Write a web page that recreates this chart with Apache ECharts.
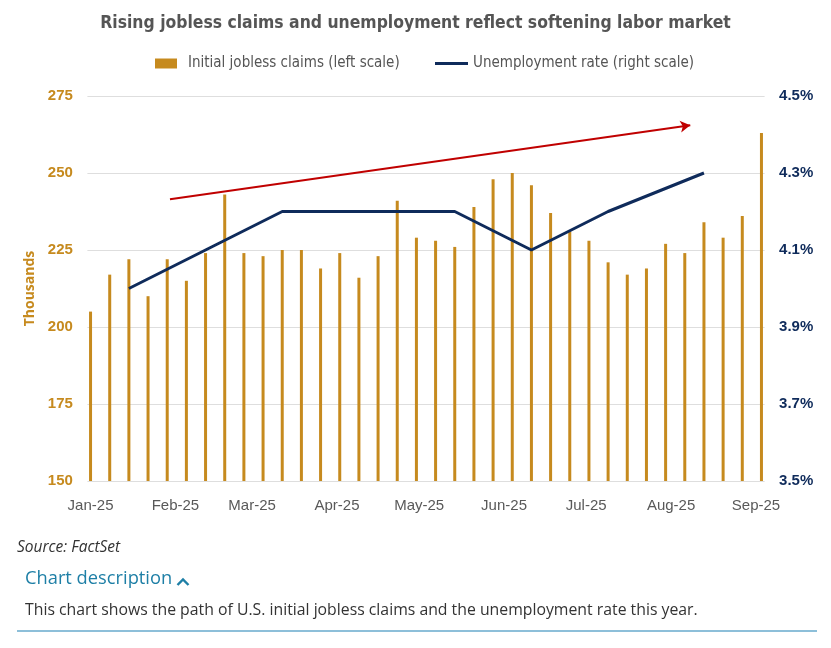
<!DOCTYPE html>
<html>
<head>
<meta charset="utf-8">
<script src="https://cdn.jsdelivr.net/npm/echarts@6/dist/echarts.min.js"></script>
<style>
html,body{margin:0;padding:0;background:#fff;}
#chart{width:831px;height:648px;}
</style>
</head>
<body>
<div id="chart"></div>
<script>
// ---- data ----
const weekDates = ['2025-01-01','2025-01-08','2025-01-15','2025-01-22','2025-01-29',
  '2025-02-05','2025-02-12','2025-02-19','2025-02-26',
  '2025-03-05','2025-03-12','2025-03-19','2025-03-26',
  '2025-04-02','2025-04-09','2025-04-16','2025-04-23','2025-04-30',
  '2025-05-07','2025-05-14','2025-05-21','2025-05-28',
  '2025-06-04','2025-06-11','2025-06-18','2025-06-25',
  '2025-07-02','2025-07-09','2025-07-16','2025-07-23','2025-07-30',
  '2025-08-06','2025-08-13','2025-08-20','2025-08-27',
  '2025-09-03'];
const claims = [205,217,222,210,222,215,224,243,224,223,225,225,219,224,216,223,241,229,
  228,226,239,248,250,246,237,231,228,221,217,219,227,224,234,229,236,263];
const rateDates = ['2025-01-15','2025-02-12','2025-03-12','2025-04-16','2025-05-14','2025-06-11','2025-07-09','2025-08-13'];
const unemploymentRate = [4.0,4.1,4.2,4.2,4.2,4.1,4.2,4.3];
const trendStart = ['2025-01-30', 241.5];
const trendEnd = ['2025-08-08', 265.5];
const leftTicks = [150, 275, 25];
const rightTicks = [3.5, 4.5, 0.2];
const monthNames = ['Jan','Feb','Mar','Apr','May','Jun','Jul','Aug','Sep','Oct','Nov','Dec'];

const GOLD = '#C68A1E';
const NAVY = '#0F2B5B';
const DAY = 86400000;
const PAD = 0.6 * DAY; // small margin so edge bars are not cut in half
const COND = '"Liberation Sans Narrow", "DejaVu Sans Condensed", sans-serif';

const xMin = new Date(weekDates[0] + 'T00:00:00').getTime() - PAD;
const xMax = new Date(weekDates[weekDates.length-1] + 'T00:00:00').getTime() + PAD;

const chart = echarts.init(document.getElementById('chart'), null, {renderer:'canvas'});
const option = {
  animation: false,
  backgroundColor: '#fff',
  title: {
    text: 'Rising jobless claims and unemployment reflect softening labor market',
    left: 'center', top: 10,
    textStyle: {fontFamily: COND, fontSize: 17.4, fontWeight: 'bold', color: '#555'}
  },
  legend: [
    {
      data: [{name: 'Initial jobless claims (left scale)', icon: 'rect', textStyle: {padding: [0,0,0,6]}}],
      left: 155, top: 56, padding: 0, itemWidth: 22, itemHeight: 10,
      textStyle: {fontFamily: COND, fontSize: 15, color: '#555'}
    },
    {
      data: [{name: 'Unemployment rate (right scale)', icon: 'rect'}],
      left: 435, top: 56, padding: 0, itemWidth: 33, itemHeight: 3,
      textStyle: {fontFamily: COND, fontSize: 15, color: '#555'}
    }
  ],
  grid: {left: 87.4, right: 66.4, top: 96, bottom: 167, containLabel: false},
  xAxis: {
    type: 'time',
    min: xMin, max: xMax,
    minInterval: 28*DAY, maxInterval: 31*DAY,
    axisLine: {show: false}, axisTick: {show: false}, splitLine: {show: false},
    axisLabel: {
      margin: 17, color: '#595959', fontSize: 15, fontFamily: 'Liberation Sans, Arial, sans-serif',
      showMinLabel: false, showMaxLabel: false,
      formatter: function (v) { const d = new Date(v); return monthNames[d.getMonth()] + '-' + String(d.getFullYear()).slice(2); }
    }
  },
  yAxis: [
    {
      type: 'value', min: leftTicks[0], max: leftTicks[1], interval: leftTicks[2],
      name: 'Thousands', nameLocation: 'middle', nameRotate: 90, nameGap: 47.5,
      nameTextStyle: {color: GOLD, fontWeight: 'bold', fontSize: 14, fontFamily: 'Open Sans, sans-serif'},
      axisLine: {show: false}, axisTick: {show: false},
      splitLine: {lineStyle: {color: '#dedede', width: 1}},
      axisLabel: {color: GOLD, fontWeight: 'bold', fontSize: 15, margin: 14.5, fontFamily: 'Liberation Sans, Arial, sans-serif'}
    },
    {
      type: 'value', min: rightTicks[0], max: rightTicks[1], interval: rightTicks[2],
      axisLine: {show: false}, axisTick: {show: false}, splitLine: {show: false},
      axisLabel: {color: NAVY, fontWeight: 'bold', fontSize: 15, margin: 14.5, fontFamily: 'Liberation Sans, Arial, sans-serif',
        formatter: function (v) { return v.toFixed(1) + '%'; }}
    }
  ],
  series: [
    {
      name: 'Initial jobless claims (left scale)', type: 'bar', yAxisIndex: 0,
      data: weekDates.map((d, i) => [d, claims[i]]),
      barWidth: 3, clip: true,
      itemStyle: {color: GOLD},
      markLine: {
        silent: true, symbol: ['none', 'arrow'], symbolSize: [9, 10], label: {show: false},
        lineStyle: {color: '#C00000', width: 2, type: 'solid'},
        data: [[{coord: trendStart}, {coord: trendEnd}]],
        z: 10
      }
    },
    {
      name: 'Unemployment rate (right scale)', type: 'line', yAxisIndex: 1,
      data: rateDates.map((d, i) => [d, unemploymentRate[i]]),
      showSymbol: false, symbol: 'none',
      lineStyle: {color: NAVY, width: 3}, itemStyle: {color: NAVY}, z: 5
    }
  ],
  graphic: [
    {type: 'text', left: 17, top: 540, style: {text: 'Source: FactSet', fill: '#333', font: 'italic 15.5px "Open Sans", sans-serif'}},
    {type: 'text', left: 25, top: 570, style: {text: 'Chart description', fill: '#1E7FA6', font: '18.3px "Open Sans", sans-serif'}},
    {type: 'polyline', shape: {points: [[177.5,585],[183,579.5],[188.5,585]]}, style: {stroke: '#1E7FA6', lineWidth: 2.4, fill: null}},
    {type: 'text', left: 25, top: 602, style: {text: 'This chart shows the path of U.S. initial jobless claims and the unemployment rate this year.', fill: '#333', font: '15.8px "Open Sans", sans-serif'}},
    {type: 'rect', shape: {x: 17, y: 630, width: 800, height: 2}, style: {fill: '#8DBFD9'}}
  ]
};
chart.setOption(option);
</script>
</body>
</html>
